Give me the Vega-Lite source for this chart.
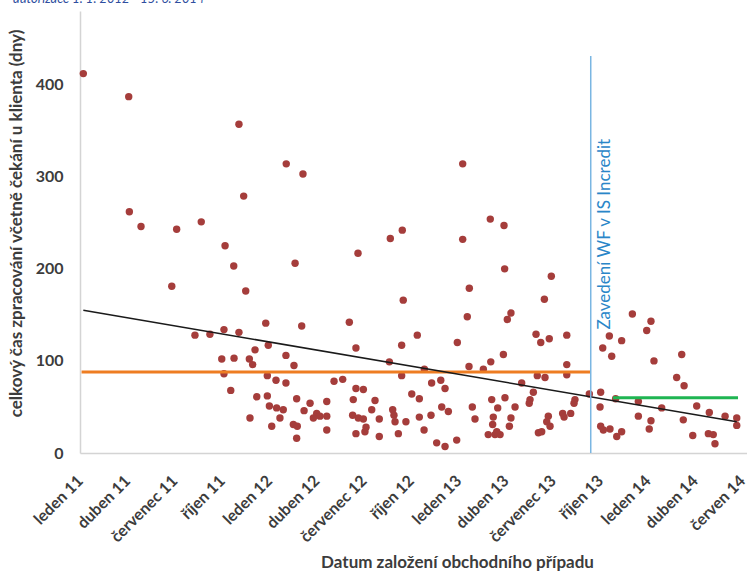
{
  "$schema": "https://vega.github.io/schema/vega-lite/v6.json",
  "width": 667,
  "height": 442,
  "autosize": {"type": "none"},
  "padding": {"left": 80, "top": 11, "right": 0, "bottom": 122},
  "background": "white",
  "title": {
    "text": "autorizace 1. 1. 2012 - 15. 6. 2014",
    "anchor": "start",
    "frame": "group",
    "baseline": "alphabetic",
    "offset": 0,
    "dx": -67,
    "dy": 5,
    "font": "Lato",
    "fontSize": 13,
    "fontStyle": "italic",
    "fontWeight": "normal",
    "color": "#2f4fa0"
  },
  "config": {
    "view": {"stroke": null},
    "axis": {
      "grid": false,
      "ticks": false,
      "domainColor": "#d4d4d4",
      "domainWidth": 1.5,
      "labelFont": "Lato",
      "labelFontSize": 16,
      "labelFontWeight": "bold",
      "labelColor": "#3c3c3c",
      "titleFont": "Lato",
      "titleFontSize": 17,
      "titleFontWeight": "bold",
      "titleColor": "#3c3c3c"
    }
  },
  "datasets": {
    "points": [
      {"m": 0.21, "dny": 412}, {"m": 3.09, "dny": 387}, {"m": 10.08, "dny": 357}, {"m": 13.08, "dny": 314},
      {"m": 14.14, "dny": 303}, {"m": 10.38, "dny": 279}, {"m": 3.13, "dny": 262}, {"m": 3.87, "dny": 246},
      {"m": 6.13, "dny": 243}, {"m": 7.69, "dny": 251}, {"m": 9.2, "dny": 225}, {"m": 9.75, "dny": 203},
      {"m": 13.64, "dny": 206}, {"m": 5.82, "dny": 181}, {"m": 10.51, "dny": 176}, {"m": 17.63, "dny": 217},
      {"m": 19.68, "dny": 233}, {"m": 20.44, "dny": 242}, {"m": 20.5, "dny": 166}, {"m": 24.27, "dny": 314},
      {"m": 24.27, "dny": 232}, {"m": 26.02, "dny": 254}, {"m": 26.89, "dny": 247}, {"m": 26.93, "dny": 200},
      {"m": 24.69, "dny": 179}, {"m": 29.89, "dny": 192}, {"m": 29.45, "dny": 167},

      {"m": 7.29, "dny": 128}, {"m": 8.24, "dny": 129}, {"m": 9.13, "dny": 134}, {"m": 10.08, "dny": 131},
      {"m": 11.78, "dny": 141}, {"m": 14.06, "dny": 138}, {"m": 11.1, "dny": 112}, {"m": 11.94, "dny": 117},
      {"m": 13.06, "dny": 106}, {"m": 13.57, "dny": 95}, {"m": 8.99, "dny": 102}, {"m": 9.77, "dny": 103},
      {"m": 10.74, "dny": 102}, {"m": 10.95, "dny": 96}, {"m": 9.13, "dny": 86}, {"m": 11.88, "dny": 84},
      {"m": 12.43, "dny": 79}, {"m": 13.06, "dny": 76}, {"m": 9.56, "dny": 68}, {"m": 11.21, "dny": 61},
      {"m": 11.88, "dny": 62}, {"m": 13.74, "dny": 59}, {"m": 15.65, "dny": 56}, {"m": 12.01, "dny": 51},
      {"m": 12.47, "dny": 49}, {"m": 12.89, "dny": 47}, {"m": 14.59, "dny": 54}, {"m": 14.21, "dny": 46},
      {"m": 12.68, "dny": 38}, {"m": 10.78, "dny": 38}, {"m": 15.01, "dny": 43}, {"m": 14.8, "dny": 38},
      {"m": 15.22, "dny": 40}, {"m": 15.65, "dny": 40}, {"m": 12.16, "dny": 29}, {"m": 13.53, "dny": 31},
      {"m": 13.78, "dny": 29}, {"m": 15.65, "dny": 25}, {"m": 13.74, "dny": 16},

      {"m": 17.08, "dny": 142}, {"m": 21.39, "dny": 128}, {"m": 20.4, "dny": 117}, {"m": 17.5, "dny": 114},
      {"m": 23.93, "dny": 120}, {"m": 19.62, "dny": 99}, {"m": 21.84, "dny": 91}, {"m": 20.4, "dny": 84},
      {"m": 16.11, "dny": 78}, {"m": 16.66, "dny": 80}, {"m": 17.5, "dny": 70}, {"m": 17.97, "dny": 69},
      {"m": 22.3, "dny": 76}, {"m": 22.88, "dny": 79}, {"m": 23.15, "dny": 70}, {"m": 17.33, "dny": 58},
      {"m": 18.71, "dny": 57}, {"m": 21.04, "dny": 64}, {"m": 21.52, "dny": 59}, {"m": 18.5, "dny": 47},
      {"m": 19.83, "dny": 47}, {"m": 22.94, "dny": 50}, {"m": 23.36, "dny": 45}, {"m": 17.29, "dny": 41},
      {"m": 17.65, "dny": 38}, {"m": 17.97, "dny": 37}, {"m": 18.98, "dny": 37}, {"m": 19.91, "dny": 41},
      {"m": 19.98, "dny": 34}, {"m": 20.67, "dny": 34}, {"m": 21.52, "dny": 39}, {"m": 22.26, "dny": 41},
      {"m": 18.14, "dny": 28}, {"m": 17.5, "dny": 21}, {"m": 18.07, "dny": 23}, {"m": 18.98, "dny": 18},
      {"m": 20.19, "dny": 21}, {"m": 21.82, "dny": 25}, {"m": 23.89, "dny": 14}, {"m": 22.62, "dny": 11},
      {"m": 23.15, "dny": 7},

      {"m": 24.56, "dny": 148}, {"m": 27.33, "dny": 152}, {"m": 27.1, "dny": 145}, {"m": 28.92, "dny": 129},
      {"m": 29.22, "dny": 120}, {"m": 29.76, "dny": 124}, {"m": 30.87, "dny": 128}, {"m": 26.85, "dny": 107},
      {"m": 26.05, "dny": 99}, {"m": 25.58, "dny": 91}, {"m": 24.67, "dny": 94}, {"m": 30.87, "dny": 96},
      {"m": 29.0, "dny": 84}, {"m": 29.49, "dny": 82}, {"m": 30.87, "dny": 85}, {"m": 28.01, "dny": 76},
      {"m": 28.75, "dny": 66}, {"m": 28.54, "dny": 58}, {"m": 28.49, "dny": 54}, {"m": 31.39, "dny": 58},
      {"m": 31.33, "dny": 54}, {"m": 26.95, "dny": 60}, {"m": 26.11, "dny": 58}, {"m": 24.88, "dny": 50},
      {"m": 26.49, "dny": 49}, {"m": 27.59, "dny": 50}, {"m": 25.05, "dny": 37}, {"m": 26.21, "dny": 39},
      {"m": 27.33, "dny": 38}, {"m": 26.17, "dny": 31}, {"m": 27.23, "dny": 29}, {"m": 30.61, "dny": 43},
      {"m": 31.12, "dny": 43}, {"m": 29.7, "dny": 40}, {"m": 29.6, "dny": 34}, {"m": 29.81, "dny": 29},
      {"m": 30.7, "dny": 39}, {"m": 25.89, "dny": 20}, {"m": 26.32, "dny": 20}, {"m": 26.64, "dny": 20},
      {"m": 26.43, "dny": 23}, {"m": 29.07, "dny": 22}, {"m": 29.28, "dny": 23}, {"m": 32.3, "dny": 64},

      {"m": 35.03, "dny": 151}, {"m": 36.21, "dny": 143}, {"m": 35.94, "dny": 133}, {"m": 33.57, "dny": 127},
      {"m": 34.35, "dny": 122}, {"m": 33.15, "dny": 114}, {"m": 33.72, "dny": 105}, {"m": 36.4, "dny": 100},
      {"m": 38.16, "dny": 107}, {"m": 37.84, "dny": 82}, {"m": 38.31, "dny": 73}, {"m": 33.02, "dny": 66},
      {"m": 33.97, "dny": 59}, {"m": 35.41, "dny": 56}, {"m": 32.98, "dny": 50}, {"m": 36.89, "dny": 49},
      {"m": 39.11, "dny": 51}, {"m": 39.91, "dny": 44}, {"m": 40.91, "dny": 40}, {"m": 41.65, "dny": 38},
      {"m": 41.65, "dny": 30}, {"m": 35.41, "dny": 40}, {"m": 36.21, "dny": 35}, {"m": 38.26, "dny": 36},
      {"m": 36.1, "dny": 26}, {"m": 33.02, "dny": 29}, {"m": 33.19, "dny": 25}, {"m": 33.61, "dny": 26},
      {"m": 34.04, "dny": 18}, {"m": 34.35, "dny": 23}, {"m": 38.86, "dny": 19}, {"m": 39.85, "dny": 21},
      {"m": 40.16, "dny": 20}, {"m": 40.27, "dny": 10}
    ],
    "prumer_pred": [{"m": 0.1, "m_konec": 32.35, "dny": 88}],
    "prumer_po": [{"m": 33.8, "m_konec": 41.73, "dny": 60}],
    "trend": [{"m": 0.21, "m_konec": 41.65, "dny": 155, "dny_konec": 34}],
    "zavedeni": [{"m": 32.39, "dny": 0, "dny_konec": 431}],
    "popisek": [{"m": 32.39, "dny": 134, "popis": "Zavedení WF v IS Incredit"}]
  },
  "encoding": {
    "x": {
      "field": "m", "type": "quantitative",
      "scale": {"domain": [0, 42.3], "nice": false, "zero": false},
      "axis": {
        "title": "Datum založení obchodního případu",
        "values": [0, 3, 6, 9, 12, 15, 18, 21, 24, 27, 30, 33, 36, 39, 42],
        "labelExpr": "['leden 11','duben 11','červenec 11','říjen 11','leden 12','duben 12','červenec 12','říjen 12','leden 13','duben 13','červenec 13','říjen 13','leden 14','duben 14','červen 14'][round(datum.value/3)]",
        "labelAngle": -45,
        "labelAlign": "right",
        "labelBaseline": "middle",
        "labelPadding": 25,
        "labelOverlap": false,
        "labelBound": false,
        "labelFlush": false,
        "titlePadding": 10,
        "titleX": 377
      }
    },
    "y": {
      "field": "dny", "type": "quantitative",
      "scale": {"domain": [0, 480], "nice": false},
      "axis": {
        "title": "celkový čas zpracování včetně čekání u klienta (dny)",
        "values": [0, 100, 200, 300, 400],
        "labelPadding": 17,
        "titlePadding": 10,
        "titleY": 212
      }
    }
  },
  "layer": [
    {
      "data": {"name": "points"},
      "mark": {"type": "point", "filled": true, "size": 55, "opacity": 1, "color": "#a53d3b"}
    },
    {
      "data": {"name": "prumer_pred"},
      "mark": {"type": "rule", "color": "#ee7d22", "strokeWidth": 3},
      "encoding": {"x2": {"field": "m_konec"}}
    },
    {
      "data": {"name": "prumer_po"},
      "mark": {"type": "rule", "color": "#1fb552", "strokeWidth": 3},
      "encoding": {"x2": {"field": "m_konec"}}
    },
    {
      "data": {"name": "trend"},
      "mark": {"type": "rule", "color": "#1a1a1a", "strokeWidth": 1.5},
      "encoding": {"x2": {"field": "m_konec"}, "y2": {"field": "dny_konec"}}
    },
    {
      "data": {"name": "zavedeni"},
      "mark": {"type": "rule", "color": "#7ab6e2", "strokeWidth": 1.5},
      "encoding": {"y2": {"field": "dny_konec"}}
    },
    {
      "data": {"name": "popisek"},
      "mark": {"type": "text", "angle": 270, "align": "left", "baseline": "top", "dy": 6, "font": "Lato", "fontSize": 17, "color": "#2a86c8"},
      "encoding": {"text": {"field": "popis"}}
    }
  ]
}
